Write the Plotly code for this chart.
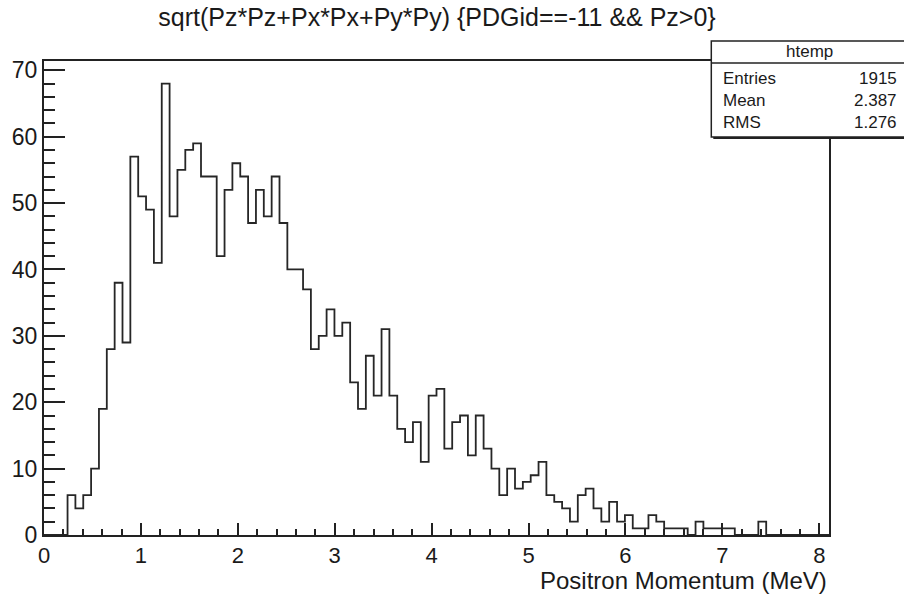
import numpy as np
import plotly.graph_objects as go

# ---- data ----
bin_lo, bin_hi, n_bins = 0.0, 8.1, 100
counts = [
    0, 0, 0, 6, 4, 6, 10, 19, 28, 38,
    29, 57, 51, 49, 41, 68, 48, 55, 58, 59,
    54, 54, 42, 52, 56, 54, 47, 52, 48, 54,
    47, 40, 40, 37, 28, 30, 34, 30, 32, 23,
    19, 27, 21, 31, 21, 16, 14, 17, 11, 21,
    22, 13, 17, 18, 12, 18, 13, 10, 6, 10,
    7, 8, 9, 11, 6, 5, 4, 2, 6, 7,
    4, 2, 5, 2, 3, 1, 1, 3, 2, 1,
    1, 1, 0, 2, 1, 1, 1, 1, 0, 0,
    0, 2, 0, 0, 0, 0, 0, 0, 0, 0,
]
x_ticks = [0, 1, 2, 3, 4, 5, 6, 7, 8]
y_ticks = [0, 10, 20, 30, 40, 50, 60, 70]
title_text = "sqrt(Pz*Pz+Px*Px+Py*Py) {PDGid==-11 && Pz>0}"
x_title = "Positron Momentum (MeV)"
stat_name = "htemp"
stat_labels = ["Entries", "Mean", "RMS"]
stat_values = ["1915", "2.387", "1.276"]

edges = np.linspace(bin_lo, bin_hi, n_bins + 1)
y_step = list(counts) + [counts[-1]]
y_max = max(counts) * 1.05

W, H = 904, 595
ML, MR, MT, MB = 42, 75, 61, 60
PW, PH = W - ML - MR, H - MT - MB


def px(xp):
    return (xp - ML) / PW


def py(yp):
    return (H - MB - yp) / PH


FONT = "Liberation Sans, Arial, Helvetica, sans-serif"
INK = "#1a1a1a"

fig = go.Figure()
fig.add_trace(go.Scatter(
    x=edges, y=y_step, mode="lines",
    line=dict(shape="hv", color="#262626", width=1.8),
    hoverinfo="skip", cliponaxis=True,
))

axis_common = dict(
    showgrid=False, zeroline=False, showline=True, mirror=True,
    linecolor="#222222", linewidth=2,
    ticks="inside", tickcolor="#222222", tickwidth=1.5,
)

fig.update_layout(
    width=W, height=H,
    margin=dict(l=ML, r=MR, t=MT, b=MB, pad=0),
    paper_bgcolor="white", plot_bgcolor="white",
    showlegend=False,
    title=dict(text=title_text, x=437 / W, xanchor="center",
               y=1 - 17 / H, yanchor="middle",
               font=dict(family=FONT, size=25, color=INK)),
    xaxis=dict(range=[bin_lo, bin_hi], tickvals=x_ticks, ticklen=12,
               tickfont=dict(family=FONT, size=22, color=INK),
               minor=dict(ticks="inside", dtick=0.2, tick0=0, ticklen=6,
                          tickwidth=1.5, tickcolor="#222222", showgrid=False),
               **axis_common),
    yaxis=dict(range=[0, y_max], tickvals=y_ticks, ticklen=21,
               tickfont=dict(family=FONT, size=23, color=INK),
               minor=dict(ticks="inside", dtick=2, tick0=0, ticklen=11,
                          tickwidth=1.5, tickcolor="#222222", showgrid=False),
               **axis_common),
)

# x-axis title, right aligned like ROOT
fig.add_annotation(text=x_title, xref="paper", yref="paper",
                   x=px(829), y=py(580), xanchor="right", yanchor="middle",
                   showarrow=False, font=dict(family=FONT, size=24, color=INK))

# statistics box
bx0, bx1, by0, by1 = 711, 906, 41, 137
fig.add_shape(type="rect", xref="paper", yref="paper",
              x0=px(bx0 + 2), x1=px(bx1 + 2), y0=py(by1 + 2), y1=py(by0 + 2),
              fillcolor="#222222", line=dict(width=0), layer="above")
fig.add_shape(type="rect", xref="paper", yref="paper",
              x0=px(bx0), x1=px(bx1), y0=py(by1), y1=py(by0),
              fillcolor="white", line=dict(color="#222222", width=1.5),
              layer="above")
fig.add_shape(type="line", xref="paper", yref="paper",
              x0=px(bx0), x1=px(bx1), y0=py(63), y1=py(63),
              line=dict(color="#222222", width=1.5), layer="above")
fig.add_annotation(text=stat_name, xref="paper", yref="paper",
                   x=px(809), y=py(52), xanchor="center", yanchor="middle",
                   showarrow=False, font=dict(family=FONT, size=17, color=INK))
row_y = [78, 100, 123]
for lab, val, yy in zip(stat_labels, stat_values, row_y):
    fig.add_annotation(text=lab, xref="paper", yref="paper",
                       x=px(721), y=py(yy), xanchor="left", yanchor="middle",
                       showarrow=False, font=dict(family=FONT, size=17, color=INK))
    fig.add_annotation(text=val, xref="paper", yref="paper",
                       x=px(899), y=py(yy), xanchor="right", yanchor="middle",
                       showarrow=False, font=dict(family=FONT, size=17, color=INK))

fig.write_html("out.html")
